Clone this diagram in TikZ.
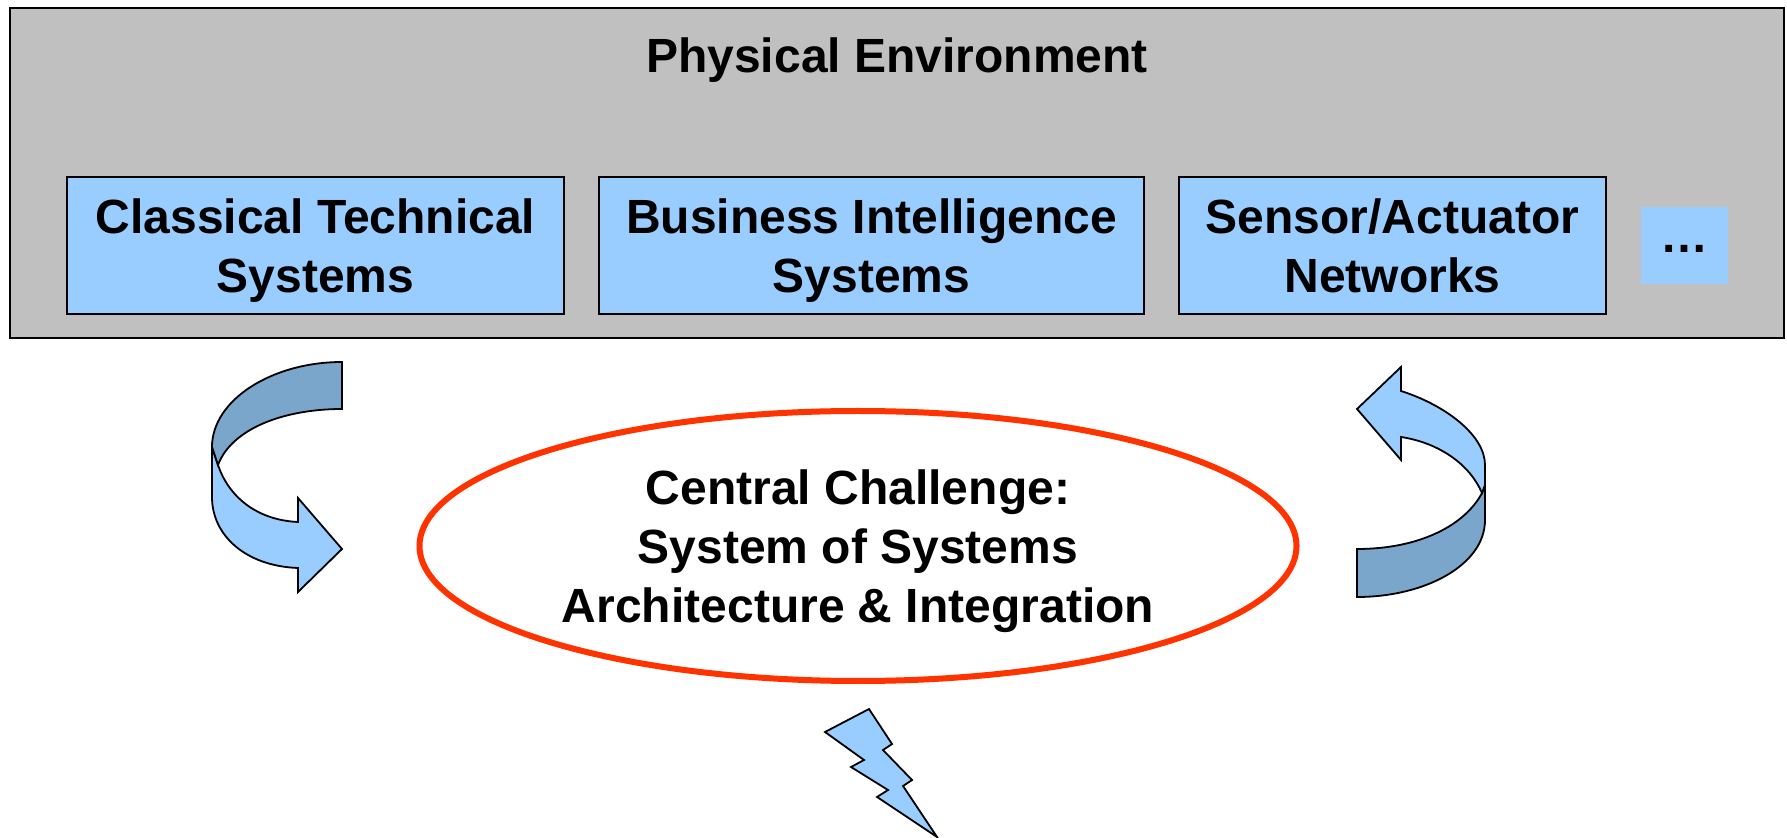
\documentclass[tikz,border=0pt]{standalone}
\usepackage{fontspec}
\setmainfont{Liberation Sans}
\usepackage{tikz}
\usetikzlibrary{shapes.geometric}
\definecolor{gris}{RGB}{192,192,192}
\definecolor{bleu}{RGB}{153,204,255}
\definecolor{bleufonce}{RGB}{122,166,204}
\definecolor{rouge}{RGB}{255,51,0}

\begin{document}
\begin{tikzpicture}[x=.5pt, y=-.5pt, font=\fontsize{24}{29.5}\selectfont\bfseries]
	% STYLES
	\tikzstyle{cadre} = [draw=black, fill=gris, line width=1pt, minimum width=887pt, minimum height=165pt]
	\tikzstyle{systeme} = [draw=black, fill=bleu, line width=.9pt, minimum height=68.5pt, align=center, inner sep=0pt, text depth=0pt]
	\tikzstyle{suite} = [draw=none, fill=bleu, minimum width=43.5pt, minimum height=38.5pt, text height=.7em, text depth=0pt]
	\tikzstyle{nomzone} = [draw=none, text=black]
	\tikzstyle{defi} = [ellipse, draw=rouge, line width=3pt, fill=white, minimum width=438.5pt, minimum height=135pt, align=center, inner sep=0pt, text depth=0pt]
	\tikzstyle{fleche} = [draw=black, line width=.9pt, fill=bleu]
	\tikzstyle{flechesombre} = [draw=black, line width=.9pt, fill=bleufonce]
	\tikzstyle{eclair} = [draw=black, line width=.9pt, fill=bleu]

	\useasboundingbox (0, 0) rectangle (1787, 838);

	% ENVIRONNEMENT
	\node[cadre] (env) at (897, 173) {};
	\node[nomzone] (titre) at (897, 60) {Physical Environment};

	% SYSTEMES
	\node[systeme, minimum width=248.5pt] (classique) at (315.5, 245.5) {Classical Technical\\Systems};
	\node[systeme, minimum width=272.5pt] (business) at (871.5, 245.5) {Business Intelligence\\Systems};
	\node[systeme, minimum width=213.5pt] (capteurs) at (1392.5, 245.5) {Sensor/Actuator\\Networks};
	\node[suite] (suite) at (1684.5, 245.5) {…};

	% DEFI
	\node[defi] (defi) at (858, 546) {Central Challenge:\\System of Systems\\Architecture \& Integration};

	% FLECHE GAUCHE
	\draw[fleche] (212, 447) -- (212, 497)
		.. controls (212, 535) and (245, 566) .. (298, 568)
		-- (298, 592) -- (342, 549) -- (298, 498) -- (298, 522)
		.. controls (255, 520) and (228, 495) .. (218, 465) -- cycle;
	\draw[flechesombre] (342, 362)
		.. controls (272, 362) and (212, 400) .. (212, 447)
		-- (218, 465)
		.. controls (232, 428) and (285, 409) .. (342, 409) -- cycle;

	% FLECHE DROITE
	\draw[flechesombre] (1482, 493) -- (1485, 485) -- (1485, 520)
		.. controls (1485, 565) and (1425, 597) .. (1357, 597)
		-- (1357, 549)
		.. controls (1420, 549) and (1465, 525) .. (1482, 493) -- cycle;
	\draw[fleche] (1357, 409) -- (1401, 367) -- (1401, 391)
		.. controls (1445, 405) and (1485, 435) .. (1485, 465)
		-- (1485, 485) -- (1482, 493)
		.. controls (1470, 465) and (1440, 443) .. (1401, 437)
		-- (1401, 460) -- cycle;

	% ECLAIR
	\draw[eclair] (825, 732) -- (869, 709) -- (892, 744) -- (883, 750) -- (912, 780) -- (903, 786)
		-- (937, 837) -- (877, 797) -- (888, 790) -- (851, 767) -- (864, 760) -- cycle;

\end{tikzpicture}
\end{document}
